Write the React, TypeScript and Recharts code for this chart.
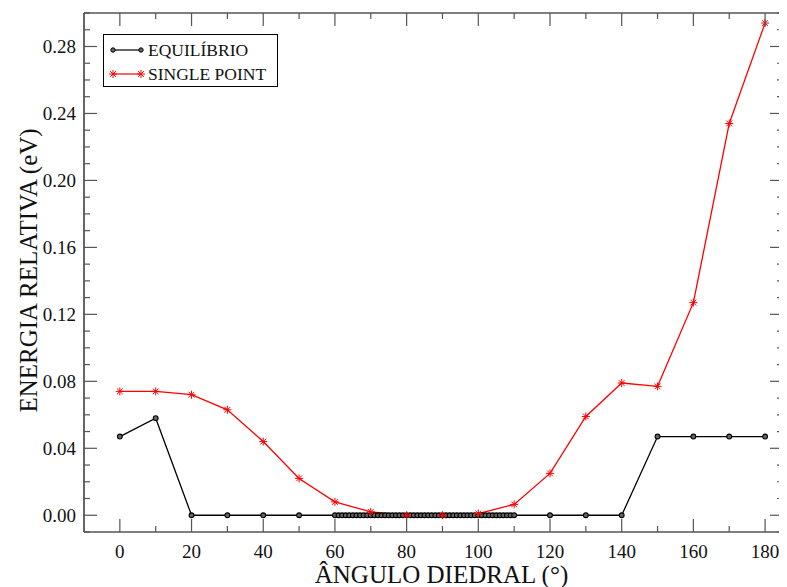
import React from 'react';
import { LineChart, Line, XAxis, YAxis } from 'recharts';

// Equilibrium scan (angle in degrees, energy in eV)
const equilibrioAngles = [
  0, 10, 20, 30, 40, 50,
  60, 61, 62, 63, 64, 65, 66, 67, 68, 69,
  70, 71, 72, 73, 74, 75, 76, 77, 78, 79,
  80, 81, 82, 83, 84, 85, 86, 87, 88, 89,
  90, 91, 92, 93, 94, 95, 96, 97, 98, 99,
  100, 101, 102, 103, 104, 105, 106, 107, 108, 109, 110,
  120, 130, 140, 150, 160, 170, 180,
];
const equilibrioEnergy = [
  0.047, 0.058, 0, 0, 0, 0,
  0, 0, 0, 0, 0, 0, 0, 0, 0, 0,
  0, 0, 0, 0, 0, 0, 0, 0, 0, 0,
  0, 0, 0, 0, 0, 0, 0, 0, 0, 0,
  0, 0, 0, 0, 0, 0, 0, 0, 0, 0,
  0, 0, 0, 0, 0, 0, 0, 0, 0, 0, 0,
  0, 0, 0, 0.047, 0.047, 0.047, 0.047,
];

// Single point scan
const singleAngles = [0, 10, 20, 30, 40, 50, 60, 70, 80, 90, 100, 110, 120, 130, 140, 150, 160, 170, 180];
const singleEnergy = [
  0.074, 0.074, 0.072, 0.063, 0.044, 0.022, 0.008, 0.002, 0.0, 0.0,
  0.001, 0.0065, 0.025, 0.059, 0.079, 0.077, 0.127, 0.234, 0.294,
];

const xTicks = [0, 10, 20, 30, 40, 50, 60, 70, 80, 90, 100, 110, 120, 130, 140, 150, 160, 170, 180];
const yTicks = [
  -0.01, 0, 0.01, 0.02, 0.03, 0.04, 0.05, 0.06, 0.07, 0.08, 0.09, 0.1, 0.11, 0.12, 0.13, 0.14,
  0.15, 0.16, 0.17, 0.18, 0.19, 0.2, 0.21, 0.22, 0.23, 0.24, 0.25, 0.26, 0.27, 0.28, 0.29, 0.3,
];

const equilibrioData = equilibrioAngles.map((a, i) => ({ x: a, y: equilibrioEnergy[i] }));
const singleData = singleAngles.map((a, i) => ({ x: a, y: singleEnergy[i] }));

const FONT = '"Liberation Serif", "Times New Roman", serif';
const MAJOR = 13;
const MINOR = 6;
const TICK_COLOR = '#555';
const TICK_FONT = 19;

const isMajorX = (v: number) => Math.round(v) % 20 === 0;
const isMajorY = (v: number) => Math.abs(Math.round(v * 100) % 4) === 0;

const BottomTick = (props: any) => {
  const { x, y, payload } = props;
  const v = payload.value;
  const major = isMajorX(v);
  return (
    <g>
      <line x1={x} x2={x} y1={y} y2={y - (major ? MAJOR : MINOR)} stroke={TICK_COLOR} strokeWidth={1.2} />
      {major && (
        <text x={x} y={y + 26} textAnchor="middle" style={{ fontFamily: FONT }} fontSize={TICK_FONT} fill="#111">
          {v}
        </text>
      )}
    </g>
  );
};

const TopTick = (props: any) => {
  const { x, y, payload } = props;
  const major = isMajorX(payload.value);
  return <line x1={x} x2={x} y1={y} y2={y + (major ? MAJOR : MINOR)} stroke={TICK_COLOR} strokeWidth={1.2} />;
};

const LeftTick = (props: any) => {
  const { x, y, payload } = props;
  const v = payload.value;
  const major = isMajorY(v);
  const showLabel = major && v >= 0 && v <= 0.285;
  return (
    <g>
      <line x1={x} x2={x + (major ? MAJOR : MINOR)} y1={y} y2={y} stroke={TICK_COLOR} strokeWidth={1.2} />
      {showLabel && (
        <text x={x - 8} y={y + 6.5} textAnchor="end" style={{ fontFamily: FONT }} fontSize={TICK_FONT} fill="#111">
          {v.toFixed(2)}
        </text>
      )}
    </g>
  );
};

const RightTick = (props: any) => {
  const { x, y, payload } = props;
  const major = isMajorY(payload.value);
  return <line x1={x} x2={x - (major ? MAJOR : MINOR)} y1={y} y2={y} stroke={TICK_COLOR} strokeWidth={1.2} />;
};

const YTitle = (props: any) => {
  const vb = props.viewBox || {};
  const cx = 20;
  const cy = vb.y + vb.height / 2 - 2;
  return (
    <text
      x={cx}
      y={cy}
      transform={`rotate(-90, ${cx}, ${cy})`}
      textAnchor="middle"
      dominantBaseline="central"
      style={{ fontFamily: FONT }}
      fontSize={25}
      fill="#111"
    >
      ENERGIA RELATIVA (eV)
    </text>
  );
};

const XTitle = (props: any) => {
  const vb = props.viewBox || {};
  const cx = vb.x + vb.width / 2 + 8;
  return (
    <text x={cx} y={575} textAnchor="middle" style={{ fontFamily: FONT }} fontSize={25} fill="#111">
      ÂNGULO DIEDRAL (°)
    </text>
  );
};

const CircleDot = (props: any) => {
  const { cx, cy, index } = props;
  if (cx == null || cy == null) return <g key={index} />;
  return <circle key={index} cx={cx} cy={cy} r={2.4} fill="#666" stroke="#000" strokeWidth={1.1} />;
};

const Asterisk = ({ cx, cy, color }: { cx: number; cy: number; color: string }) => {
  const r = 4;
  const d = r * 0.72;
  return (
    <g>
      <line x1={cx - r} x2={cx + r} y1={cy} y2={cy} stroke={color} strokeWidth={1} />
      <line x1={cx} x2={cx} y1={cy - r} y2={cy + r} stroke={color} strokeWidth={1} />
      <line x1={cx - d} x2={cx + d} y1={cy - d} y2={cy + d} stroke={color} strokeWidth={1} />
      <line x1={cx - d} x2={cx + d} y1={cy + d} y2={cy - d} stroke={color} strokeWidth={1} />
    </g>
  );
};

const StarDot = (props: any) => {
  const { cx, cy, index } = props;
  if (cx == null || cy == null) return <g key={index} />;
  return (
    <g key={index}>
      <Asterisk cx={cx} cy={cy} color="#ff0000" />
    </g>
  );
};

const LegendBox = () => (
  <svg width={176} height={54} style={{ display: 'block' }}>
    <rect x={0.5} y={0.5} width={174} height={52} fill="#fff" stroke="#000" strokeWidth={1} />
    <line x1={10} x2={38} y1={16} y2={16} stroke="#000" strokeWidth={1.2} />
    <circle cx={10} cy={16} r={2.2} fill="#666" stroke="#000" strokeWidth={1} />
    <circle cx={38} cy={16} r={2.2} fill="#666" stroke="#000" strokeWidth={1} />
    <text x={45} y={22} style={{ fontFamily: FONT }} fontSize={17.5} fill="#111">EQUILÍBRIO</text>
    <line x1={10} x2={38} y1={40} y2={40} stroke="#ff0000" strokeWidth={1.2} />
    <Asterisk cx={10} cy={40} color="#ff0000" />
    <Asterisk cx={38} cy={40} color="#ff0000" />
    <text x={45} y={46} style={{ fontFamily: FONT }} fontSize={17.5} fill="#111">SINGLE POINT</text>
  </svg>
);

export default function App() {
  return (
    <div style={{ width: 779, height: 579, position: 'relative', fontFamily: FONT }}>
      <LineChart width={779} height={579} margin={{ top: 4, right: 0, left: 0, bottom: 0 }}>
        <XAxis
          xAxisId="bottom"
          dataKey="x"
          type="number"
          domain={[-10, 185]}
          ticks={xTicks}
          interval={0}
          allowDataOverflow
          orientation="bottom"
          height={55}
          tickSize={0}
          tickMargin={0}
          tickLine={false}
          axisLine={{ stroke: '#000', strokeWidth: 1.2 }}
          tick={<BottomTick />}
          label={<XTitle />}
        />
        <XAxis
          xAxisId="top"
          dataKey="x"
          type="number"
          domain={[-10, 185]}
          ticks={xTicks}
          interval={0}
          allowDataOverflow
          orientation="top"
          height={1}
          tickSize={0}
          tickMargin={0}
          tickLine={false}
          axisLine={{ stroke: '#000', strokeWidth: 1.2 }}
          tick={<TopTick />}
        />
        <YAxis
          yAxisId="left"
          type="number"
          domain={[-0.01, 0.3]}
          ticks={yTicks}
          interval={0}
          allowDataOverflow
          orientation="left"
          width={76}
          tickSize={0}
          tickMargin={0}
          tickLine={false}
          axisLine={{ stroke: '#000', strokeWidth: 1.2 }}
          tick={<LeftTick />}
          label={<YTitle />}
        />
        <YAxis
          yAxisId="right"
          type="number"
          domain={[-0.01, 0.3]}
          ticks={yTicks}
          interval={0}
          allowDataOverflow
          orientation="right"
          width={4}
          tickSize={0}
          tickMargin={0}
          tickLine={false}
          axisLine={{ stroke: '#000', strokeWidth: 1.2 }}
          tick={<RightTick />}
        />
        <Line
          xAxisId="bottom"
          yAxisId="left"
          data={equilibrioData}
          dataKey="y"
          name="EQUILÍBRIO"
          stroke="#000"
          strokeWidth={1.3}
          dot={<CircleDot />}
          activeDot={false}
          isAnimationActive={false}
        />
        <Line
          xAxisId="bottom"
          yAxisId="left"
          data={singleData}
          dataKey="y"
          name="SINGLE POINT"
          stroke="#ff0000"
          strokeWidth={1.3}
          dot={<StarDot />}
          activeDot={false}
          isAnimationActive={false}
        />
      </LineChart>
      <div style={{ position: 'absolute', left: 95, top: 26, width: 176, height: 54 }}>
        <LegendBox />
      </div>
    </div>
  );
}
